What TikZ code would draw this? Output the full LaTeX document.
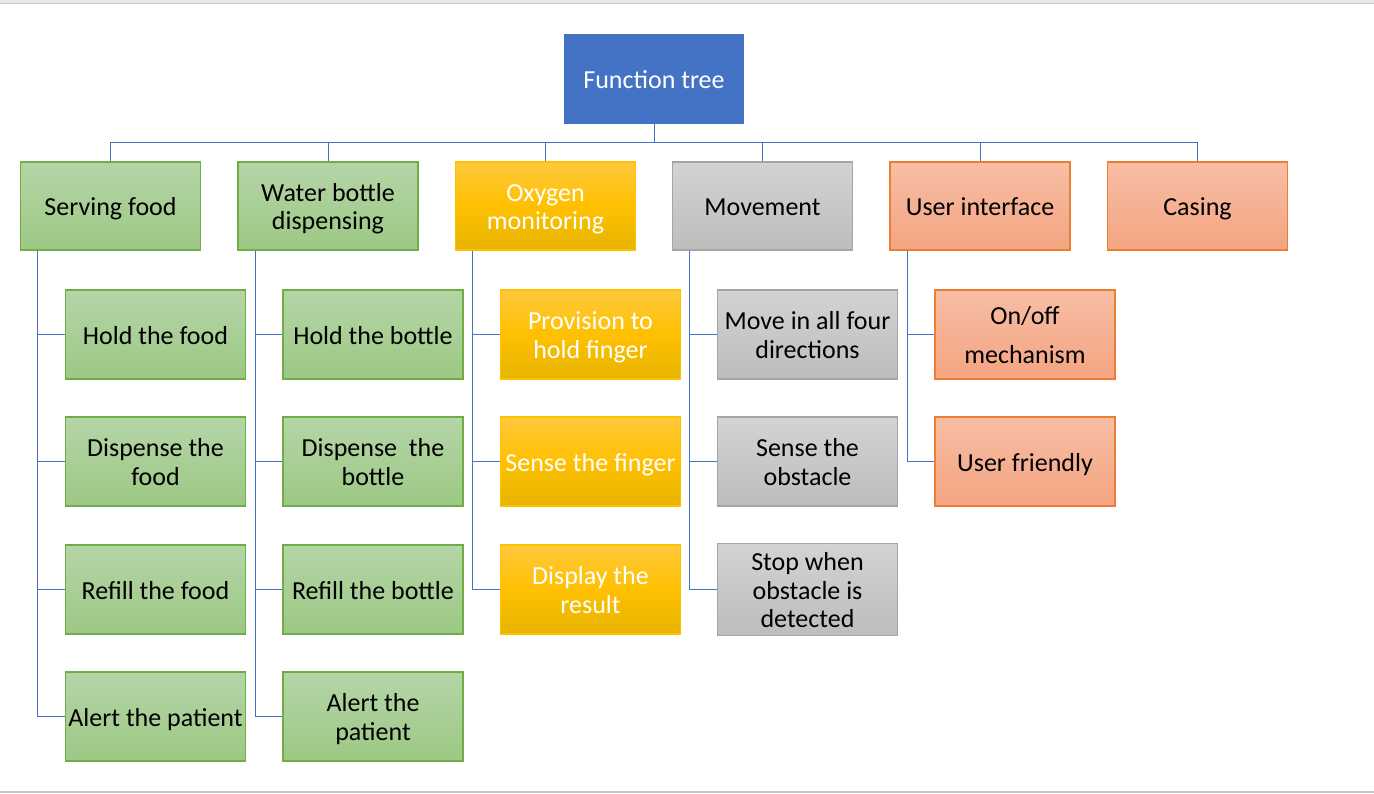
\documentclass[tikz,border=0pt]{standalone}
\usepackage{fontspec}
\setmainfont{Carlito}
\definecolor{rootblue}{HTML}{4472C4}
\definecolor{conncol}{HTML}{4472C4}
\definecolor{gtop}{HTML}{B5D5A7}
\definecolor{gbot}{HTML}{9CC884}
\definecolor{gborder}{HTML}{70AD47}
\definecolor{ytop}{HTML}{FFC93D}
\definecolor{ymid}{HTML}{FFC000}
\definecolor{ybot}{HTML}{E6B400}
\definecolor{yborder}{HTML}{FFC000}
\definecolor{stop}{HTML}{D3D3D3}
\definecolor{sbot}{HTML}{BDBDBD}
\definecolor{sborder}{HTML}{A5A5A5}
\definecolor{otop}{HTML}{F7BEA5}
\definecolor{obot}{HTML}{F4A481}
\definecolor{oborder}{HTML}{ED7D31}
\newcommand\myfirststrut{\rule{0pt}{26pt}}
\newcommand\mylaststrut{\rule[-7pt]{0pt}{7pt}}
\newcommand\mytwo[2]{\myfirststrut #1\\#2\mylaststrut}
\newcommand\mythree[3]{\myfirststrut #1\\#2\\#3\mylaststrut}
\tikzset{
  box/.style={rectangle, minimum width=180pt, minimum height=89pt, inner sep=1pt,
    align=center, font=\fontsize{26}{28.5}\selectfont, line width=1.1pt},
  topbox/.style={box, minimum height=88pt},
  rootbox/.style={box, minimum width=178pt, minimum height=88pt, fill=rootblue, draw=rootblue, text=white},
  gbox/.style={box, draw=gborder, top color=gtop, bottom color=gbot, text=black},
  ybox/.style={box, draw=yborder, top color=ytop, bottom color=ybot, middle color=ymid, text=white},
  sbox/.style={box, draw=sborder, top color=stop, bottom color=sbot, text=black},
  obox/.style={box, draw=oborder, top color=otop, bottom color=obot, text=black},
  conn/.style={draw=conncol, line width=1pt},
  oneline/.style={execute at begin node=\myfirststrut, execute at end node=\mylaststrut},
}
\begin{document}
\begin{tikzpicture}[x=1pt,y=-1pt]
\useasboundingbox (0,0) rectangle (1374,793);
\fill[white] (0,0) rectangle (1374,793);
\fill[gray!18] (0,0) rectangle (1374,3);
\draw[gray!40, line width=1pt] (0,3) -- (1374,3);
\draw[gray!45, line width=1.5pt] (0,792) -- (1374,792);

% root
\node[rootbox, oneline] (root) at (654,79) {Function tree};

% level 1
\node[gbox, topbox, oneline] (sf) at (110.5,206) {Serving food};
\node[gbox, topbox] (wb) at (328,206) {\mytwo{Water bottle}{dispensing}};
\node[ybox, topbox] (om) at (545.5,206) {\mytwo{Oxygen}{monitoring}};
\node[sbox, topbox, oneline] (mv) at (762.5,206) {Movement};
\node[obox, topbox, oneline] (ui) at (980,206) {User interface};
\node[obox, topbox, oneline] (cs) at (1197.5,206) {Casing};

% serving food children
\node[gbox, oneline] (sf1) at (155.5,334.5) {Hold the food};
\node[gbox] (sf2) at (155.5,461.5) {\mytwo{Dispense the}{food}};
\node[gbox, oneline] (sf3) at (155.5,589.5) {Refill the food};
\node[gbox, oneline] (sf4) at (155.5,716.5) {Alert the patient};

% water bottle children
\node[gbox, oneline] (wb1) at (373,334.5) {Hold the bottle};
\node[gbox] (wb2) at (373,461.5) {\mytwo{Dispense\ \ the}{bottle}};
\node[gbox, oneline] (wb3) at (373,589.5) {Refill the bottle};
\node[gbox] (wb4) at (373,716.5) {\mytwo{Alert the}{patient}};

% oxygen children
\node[ybox] (om1) at (590.5,334.5) {\mytwo{Provision to}{hold finger}};
\node[ybox, oneline] (om2) at (590.5,461.5) {Sense the finger};
\node[ybox] (om3) at (590.5,589.5) {\mytwo{Display the}{result}};

% movement children
\node[sbox] (mv1) at (807.5,334.5) {\mytwo{Move in all four}{directions}};
\node[sbox] (mv2) at (807.5,461.5) {\mytwo{Sense the}{obstacle}};
\node[sbox] (mv3) at (807.5,589.5) {\mythree{Stop when}{obstacle is}{detected}};

% user interface children
\node[obox, font=\fontsize{26}{39}\selectfont] (ui1) at (1025,334.5) {\mytwo{On/off}{mechanism}};
\node[obox, oneline] (ui2) at (1025,461.5) {User friendly};

% root to level 1
\foreach \n in {sf,wb,om,mv,ui,cs}
  \draw[conn] (root.south) |- ([yshift=19pt]\n.north) -- (\n.north);

% trunks to children
\foreach \p/\c in {sf/sf1,sf/sf2,sf/sf3,sf/sf4,wb/wb1,wb/wb2,wb/wb3,wb/wb4,om/om1,om/om2,om/om3,mv/mv1,mv/mv2,mv/mv3,ui/ui1,ui/ui2}
  \draw[conn] ([xshift=18pt]\p.south west) |- (\c.west);
\end{tikzpicture}
\end{document}
